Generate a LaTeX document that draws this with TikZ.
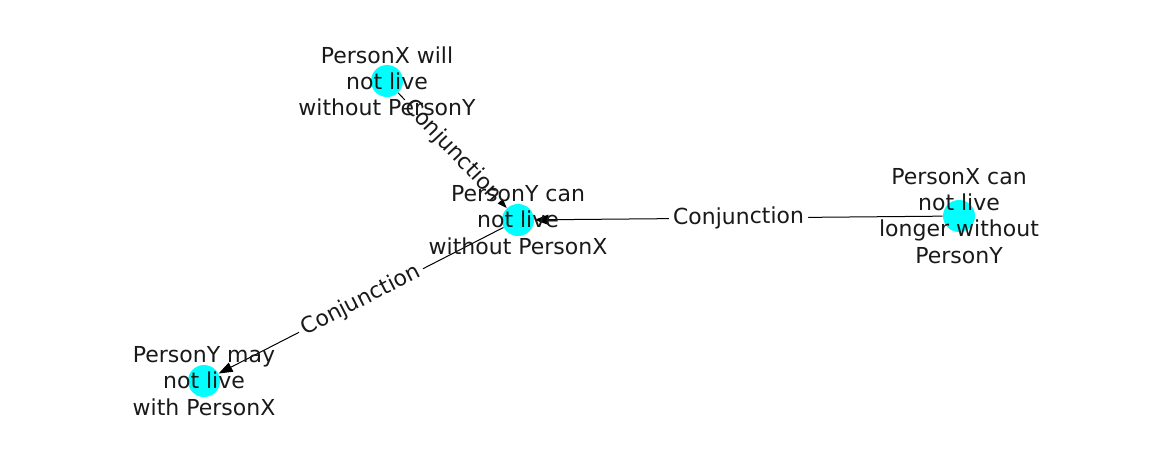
\documentclass[tikz,border=0pt]{standalone}
\usepackage{fontspec}
\setmainfont{DejaVu Sans}
\usetikzlibrary{arrows.meta}
\definecolor{aqua}{RGB}{0,255,255}
\begin{document}
\begin{tikzpicture}[x=0.5pt,y=-0.5pt,
  dot/.style={circle,fill=aqua,minimum size=16pt,inner sep=0pt},
  txt/.style={align=center,font=\fontsize{11}{13.1}\selectfont,text=black!90},
  rel/.style={fill=white,inner sep=2pt,font=\fontsize{11}{13.1}\selectfont,text=black!90},
  link/.style={-{Triangle[length=7pt,width=5pt]},black,line width=0.5pt}]
\useasboundingbox(0,0)rectangle(1162,462);
% events
\node[dot](willnot) at (387,81){};
\node[dot](cannot) at (518,220){};
\node[dot](longer) at (959,216){};
\node[dot](maynot) at (204,381){};
% relations
\draw[link](willnot)--(cannot)node[midway,sloped,rel]{Conjunction};
\draw[link](longer)--(cannot)node[midway,sloped,rel]{Conjunction};
\draw[link](cannot)--(maynot)node[midway,sloped,rel]{Conjunction};
% event texts
\node[txt](willnot-t) at (willnot){PersonX will\\not live\\without PersonY};
\node[txt](cannot-t) at (cannot){PersonY can\\not live\\without PersonX};
\node[txt](longer-t) at (longer){PersonX can\\not live\\longer without\\PersonY};
\node[txt](maynot-t) at (maynot){PersonY may\\not live\\with PersonX};
\end{tikzpicture}
\end{document}
